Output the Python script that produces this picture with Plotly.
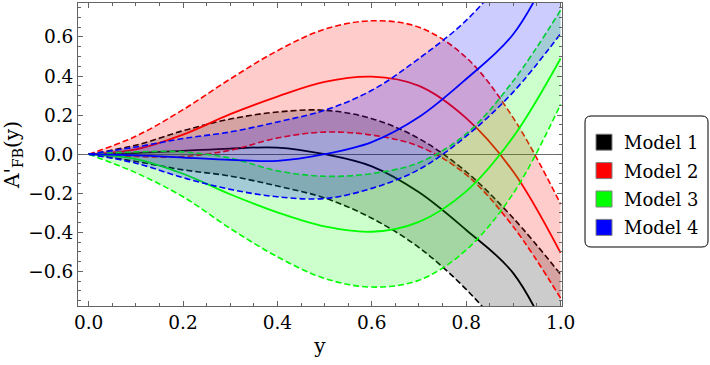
import plotly.graph_objects as go

# ---- data ----
y_vals = [0.0, 0.1, 0.2, 0.3, 0.4, 0.5, 0.6, 0.7, 0.8, 0.9, 1.0]

model_names = ["Model 1", "Model 2", "Model 3", "Model 4"]

m1_mid = [0, 0.006, 0.017, 0.029, 0.034, 0.000, -0.062, -0.195, -0.388, -0.610, -1.06]
m1_hi = [0, 0.046, 0.120, 0.180, 0.216, 0.225, 0.182, 0.080, -0.090, -0.328, -0.615]
m1_lo = [0, -0.037, -0.080, -0.112, -0.163, -0.224, -0.328, -0.478, -0.692, -0.97, -1.30]

m2_mid = [0, 0.025, 0.100, 0.205, 0.295, 0.370, 0.397, 0.350, 0.185, -0.090, -0.505]
m2_hi = [0, 0.092, 0.228, 0.385, 0.530, 0.640, 0.683, 0.650, 0.495, 0.185, -0.255]
m2_lo = [0, -0.012, -0.012, 0.020, 0.083, 0.113, 0.098, 0.040, -0.105, -0.372, -0.737]

m3_mid = [0, -0.025, -0.100, -0.205, -0.298, -0.370, -0.397, -0.346, -0.190, 0.090, 0.490]
m3_hi = [0, 0.012, 0.012, -0.020, -0.085, -0.113, -0.099, -0.043, 0.104, 0.376, 0.737]
m3_lo = [0, -0.095, -0.218, -0.380, -0.525, -0.636, -0.680, -0.645, -0.490, -0.200, 0.255]

m4_mid = [0, -0.006, -0.017, -0.029, -0.034, 0.000, 0.062, 0.190, 0.385, 0.615, 1.05]
m4_hi = [0, 0.037, 0.080, 0.114, 0.165, 0.225, 0.327, 0.490, 0.685, 0.96, 1.30]
m4_lo = [0, -0.046, -0.120, -0.180, -0.218, -0.227, -0.175, -0.078, 0.092, 0.319, 0.617]

# ---- styles ----
line_colors = ["rgb(0,0,0)", "rgb(255,0,0)", "rgb(0,255,0)", "rgb(0,0,255)"]
fill_colors = ["rgba(0,0,0,0.2)", "rgba(255,0,0,0.2)", "rgba(0,255,0,0.2)", "rgba(0,0,255,0.2)"]
font_family = "DejaVu Serif"

models = [
    (m1_lo, m1_hi, m1_mid),
    (m2_lo, m2_hi, m2_mid),
    (m3_lo, m3_hi, m3_mid),
    (m4_lo, m4_hi, m4_mid),
]

fig = go.Figure()

for i, (lo, hi, mid) in enumerate(models):
    c = line_colors[i]
    fig.add_trace(go.Scatter(x=y_vals, y=lo, mode="lines", showlegend=False,
                             line=dict(color=c, width=1.6, dash="6px,3px", shape="spline", smoothing=1.0),
                             hoverinfo="skip"))
    fig.add_trace(go.Scatter(x=y_vals, y=hi, mode="lines", showlegend=False,
                             fill="tonexty", fillcolor=fill_colors[i],
                             line=dict(color=c, width=1.6, dash="6px,3px", shape="spline", smoothing=1.0),
                             hoverinfo="skip"))
    fig.add_trace(go.Scatter(x=y_vals, y=mid, mode="lines", showlegend=False,
                             line=dict(color=c, width=1.8, shape="spline", smoothing=1.0),
                             hoverinfo="skip"))

# legend entries (color squares)
for i, name in enumerate(model_names):
    fig.add_trace(go.Scatter(x=[None], y=[None], mode="markers", name=name, legendgroup=name,
                             marker=dict(symbol="square", size=16, color=line_colors[i],
                                         line=dict(color="rgb(130,130,130)", width=1))))

axis_common = dict(
    showline=True, linecolor="rgb(100,100,100)", linewidth=1, automargin=False,
    mirror="allticks", ticks="inside", ticklen=5, tickwidth=1, tickcolor="rgb(100,100,100)",
    showgrid=False, tickfont=dict(family=font_family, size=18.5, color="black"),
    tickformat=".1f",
)

fig.update_xaxes(
    range=[-0.0225, 1.003], dtick=0.2, tick0=0,
    minor=dict(dtick=0.05, tick0=0, ticks="inside", ticklen=3, tickcolor="rgb(100,100,100)", showgrid=False),
    zeroline=False,
    title=dict(text="y", font=dict(family=font_family, size=20, color="black"), standoff=6),
    **axis_common,
)
fig.update_yaxes(
    range=[-0.777, 0.774], dtick=0.2, tick0=0,
    minor=dict(dtick=0.05, tick0=0, ticks="inside", ticklen=3, tickcolor="rgb(100,100,100)", showgrid=False),
    zeroline=True, zerolinecolor="rgb(110,110,110)", zerolinewidth=1,
    title=dict(text="A'<sub>FB</sub>(y)", font=dict(family=font_family, size=20, color="black"), standoff=6),
    **axis_common,
)

# plot-area pixel geometry -> paper coordinates
L, R, T, B = 78, 562, 3, 306
def px(x):
    return (x - L) / (R - L)
def py(y):
    return (B - y) / (B - T)

# rounded legend frame
x0, x1, y0, y1, r = 585, 708, 116, 247, 6
path = (f"M {px(x0 + r)},{py(y0)} L {px(x1 - r)},{py(y0)} Q {px(x1)},{py(y0)} {px(x1)},{py(y0 + r)} "
        f"L {px(x1)},{py(y1 - r)} Q {px(x1)},{py(y1)} {px(x1 - r)},{py(y1)} "
        f"L {px(x0 + r)},{py(y1)} Q {px(x0)},{py(y1)} {px(x0)},{py(y1 - r)} "
        f"L {px(x0)},{py(y0 + r)} Q {px(x0)},{py(y0)} {px(x0 + r)},{py(y0)} Z")
fig.add_shape(type="path", path=path, xref="paper", yref="paper",
              line=dict(color="black", width=1), fillcolor="rgba(0,0,0,0)")

fig.update_layout(
    width=710, height=365,
    margin=dict(l=L, r=710 - R, t=T, b=365 - B),
    paper_bgcolor="white", plot_bgcolor="white",
    showlegend=True,
    legend=dict(x=px(584), y=py(124), xanchor="left", yanchor="top",
                bgcolor="rgba(0,0,0,0)", borderwidth=0, traceorder="grouped",
                font=dict(family=font_family, size=18, color="black"),
                itemsizing="trace", tracegroupgap=2),
)

fig.write_html("out.html",
               config={"displayModeBar": False},
               post_script="document.body.style.margin='0';document.body.style.overflow='hidden';")
